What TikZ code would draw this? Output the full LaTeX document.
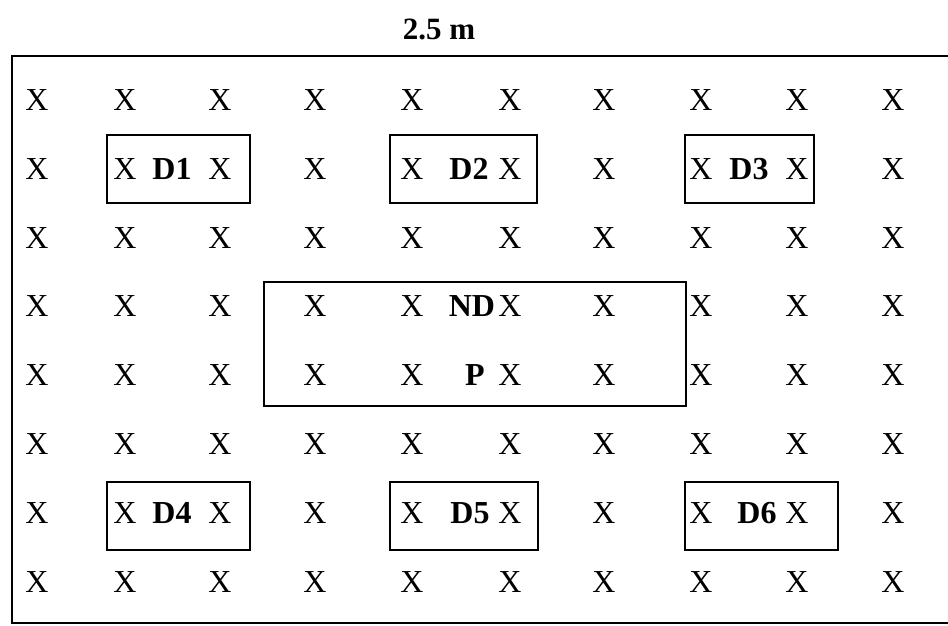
\documentclass[tikz,border=0pt]{standalone}
\usepackage{fontspec}
\setmainfont{Liberation Serif}
\begin{document}
\begin{tikzpicture}[x=1pt,y=-1pt,
  mark/.style={},
  xmark/.style={anchor=base,inner sep=0pt,font=\fontsize{32}{36}\selectfont},
  lbl/.style={anchor=base,inner sep=0pt,font=\fontsize{32}{36}\selectfont\bfseries},
  zone/.style={draw,line width=1.3pt,rectangle,inner sep=0pt}]
\useasboundingbox (0,0) rectangle (948,625);
\fill[white] (0,0) rectangle (948,625);
\clip (0,0) rectangle (948,625);
% outer field
\draw[line width=1.4pt] (960,56) -- (12,56) -- (12,623) -- (960,623);
% title
\node[lbl,font=\fontsize{31}{35}\selectfont\bfseries] (title) at (439,39) {2.5 m};
% grid of X
\foreach \c/\xx in {1/37,2/125,3/220,4/315,5/412,6/510,7/604,8/701,9/797,10/893}{
  \foreach \r/\yy in {1/99,2/168,3/237,4/305,5/374,6/443,7/512,8/581}{
    \node[xmark] (x\r-\c) at (\xx,\yy+11) {X};
  }
}
% boxes
\node[zone,minimum width=143pt,minimum height=68pt] (b1) at (178.5,169) {};
\node[zone,minimum width=147pt,minimum height=68pt] (b2) at (463.5,169) {};
\node[zone,minimum width=129pt,minimum height=68pt] (b3) at (749.5,169) {};
\node[zone,minimum width=143pt,minimum height=68pt] (b4) at (178.5,516) {};
\node[zone,minimum width=148pt,minimum height=68pt] (b5) at (464,516) {};
\node[zone,minimum width=153pt,minimum height=68pt] (b6) at (761.5,516) {};
\node[zone,minimum width=422pt,minimum height=124pt] (bc) at (475,344) {};
% labels
\node[lbl] (d1) at (172,179) {D1};
\node[lbl] (d2) at (469,179) {D2};
\node[lbl] (d3) at (749,179) {D3};
\node[lbl] (d4) at (172,523) {D4};
\node[lbl] (d5) at (470,523) {D5};
\node[lbl] (d6) at (757,523) {D6};
\node[lbl] (nd) at (472,316) {ND};
\node[lbl] (p) at (475,385) {P};
\end{tikzpicture}
\end{document}
